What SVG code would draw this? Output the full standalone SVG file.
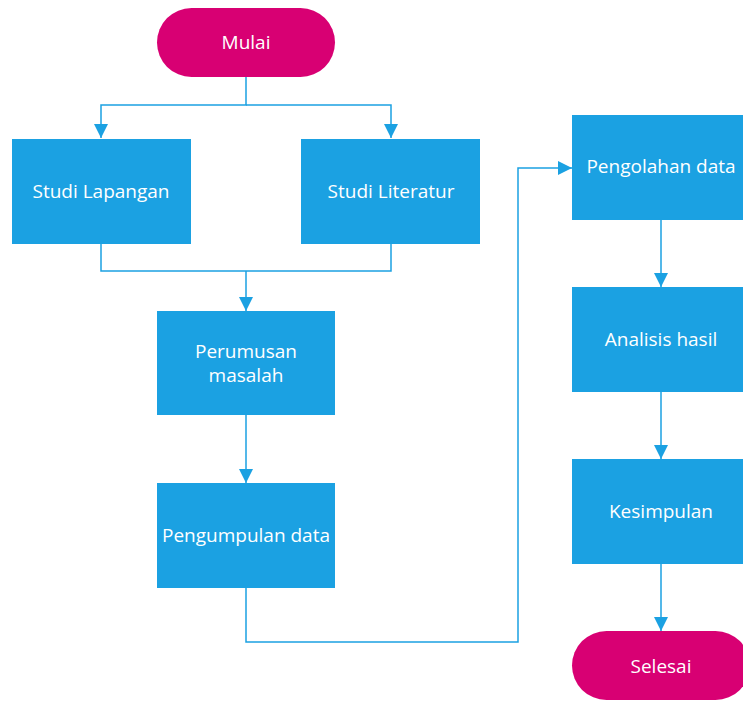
<svg xmlns="http://www.w3.org/2000/svg" width="743" height="701" viewBox="0 0 743 701">
<defs>
<style>
.box{fill:#1ba1e2}
.term{fill:#d80073}
.t{font-family:"Open Sans","Noto Sans","Liberation Sans",sans-serif;font-size:19px;fill:#ffffff;text-anchor:middle}
.c{fill:none;stroke:#1ba1e2;stroke-width:1.5}
</style>
<marker id="ah" viewBox="0 0 14 14" refX="14" refY="7" markerWidth="14" markerHeight="14" markerUnits="userSpaceOnUse" orient="auto">
<path d="M0,0 L14,7 L0,14 Z" fill="#1ba1e2"/>
</marker>
</defs>
<g id="connectors">
<path class="c" d="M246,77 V105 H101 V138" marker-end="url(#ah)"/>
<path class="c" d="M246,105 H391 V138" marker-end="url(#ah)"/>
<path class="c" d="M101,244 V271 H391 V244"/>
<path class="c" d="M246,271 V311" marker-end="url(#ah)"/>
<path class="c" d="M246,415 V483" marker-end="url(#ah)"/>
<path class="c" d="M246,588 V642 H518 V168 H572" marker-end="url(#ah)"/>
<path class="c" d="M661,220 V287" marker-end="url(#ah)"/>
<path class="c" d="M661,392 V459" marker-end="url(#ah)"/>
<path class="c" d="M661,564 V631" marker-end="url(#ah)"/>
</g>
<g id="mulai"><rect class="term" x="157" y="8" width="178" height="69" rx="34.5"/><text class="t" x="246" y="49">Mulai</text></g>
<g id="studi-lapangan"><rect class="box" x="12" y="139" width="179" height="105"/><text class="t" x="101" y="198">Studi Lapangan</text></g>
<g id="studi-literatur"><rect class="box" x="301" y="139" width="179" height="105"/><text class="t" x="391" y="198">Studi Literatur</text></g>
<g id="perumusan"><rect class="box" x="157" y="311" width="178" height="104"/><text class="t" x="246" y="358">Perumusan</text><text class="t" x="246" y="382">masalah</text></g>
<g id="pengumpulan"><rect class="box" x="157" y="483" width="178" height="105"/><text class="t" x="246" y="542">Pengumpulan data</text></g>
<g id="pengolahan"><rect class="box" x="572" y="115" width="178" height="105"/><text class="t" x="661" y="173">Pengolahan data</text></g>
<g id="analisis"><rect class="box" x="572" y="287" width="178" height="105"/><text class="t" x="661" y="346">Analisis hasil</text></g>
<g id="kesimpulan"><rect class="box" x="572" y="459" width="178" height="105"/><text class="t" x="661" y="518">Kesimpulan</text></g>
<g id="selesai"><rect class="term" x="572" y="631" width="178" height="69" rx="34.5"/><text class="t" x="661" y="673">Selesai</text></g>
</svg>
